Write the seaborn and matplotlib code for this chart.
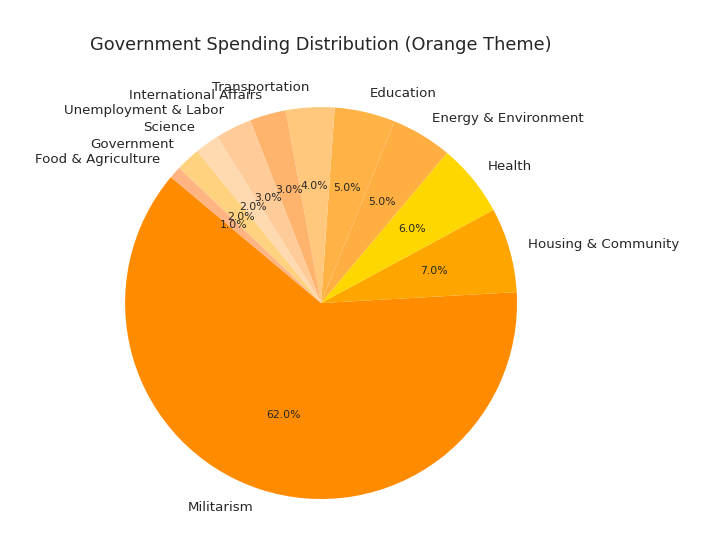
import seaborn as sns
import matplotlib.pyplot as plt

categories = [
    "Militarism",
    "Housing & Community",
    "Health",
    "Energy & Environment",
    "Education",
    "Transportation",
    "International Affairs",
    "Unemployment & Labor",
    "Science",
    "Government",
    "Food & Agriculture",
]
shares = [62, 7, 6, 5, 5, 4, 3, 3, 2, 2, 1]
slice_colors = [
    "#FF8C00", "#FFA500", "#FFD700", "#FFAE42", "#FFB347", "#FFC87C",
    "#FFB46E", "#FFCC99", "#FFDAB0", "#FFD280", "#FFB482",
]

sns.set_theme(style="white")
plt.rcParams["font.family"] = ["DejaVu Sans"]

fig = plt.figure(figsize=(7.2, 5.48), dpi=100)
ax = fig.add_axes([0.1056, 0.0, 0.6806, 0.894])

ax.pie(
    shares,
    labels=categories,
    colors=slice_colors,
    autopct="%1.1f%%",
    startangle=140,
    wedgeprops={"linewidth": 0},
    textprops={"fontsize": 9.6, "color": ".15"},
)
for t in ax.texts:
    if t.get_text().endswith("%"):
        t.set_fontsize(7.8)

ax.set_title("Government Spending Distribution (Orange Theme)",
             fontsize=12.8, color=".15", pad=5.5)

fig.savefig("out.png", dpi=100)
